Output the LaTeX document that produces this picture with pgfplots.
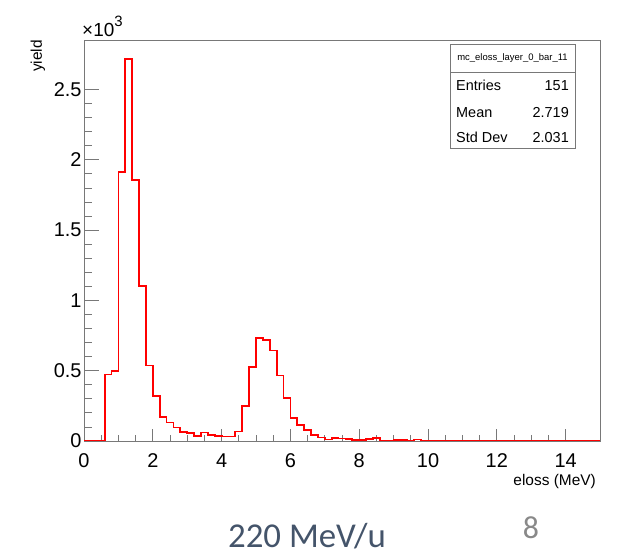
\documentclass[border=0pt]{standalone}
\usepackage{fontspec}
\setmainfont{Liberation Sans}
\newfontfamily\carlito{Carlito}
\usepackage{pgfplots}
\pgfplotsset{compat=1.18}
\definecolor{slidegray}{RGB}{68,84,106}
\definecolor{numgray}{RGB}{137,137,137}
\definecolor{framegray}{RGB}{120,120,120}
\definecolor{histred}{RGB}{255,0,0}
\begin{document}
\begin{tikzpicture}[x=1bp,y=1bp]
\path[use as bounding box] (0,0) rectangle (618,558);
\begin{axis}[
  at={(84bp,117bp)}, anchor=south west,
  scale only axis, width=516bp, height=401bp,
  xmin=0, xmax=15, ymin=0, ymax=2.852,
  axis line style={framegray, line width=0.8pt},
  every tick/.style={draw=framegray, line width=0.8pt},
  tick align=inside, xtick pos=bottom, ytick pos=left,
  xtick={0,2,...,14}, ytick={0,0.5,1,1.5,2,2.5},
  minor x tick num=3, minor y tick num=4,
  major tick length=12bp, minor tick length=6bp,
  ytick style={/pgfplots/major tick length=15bp, /pgfplots/minor tick length=7.5bp},
  /pgf/number format/assume math mode=true,
  scaled y ticks=false,
  yticklabel style={/pgf/number format/fixed, font=\fontsize{20}{20}\selectfont, xshift=1bp},
  xticklabel style={font=\fontsize{20}{20}\selectfont, yshift=-9bp},
]
\addplot[const plot mark left, draw=histred, line width=1.8pt, mark=none, line join=miter] coordinates {
(0.0,0) (0.2,0) (0.4,0) (0.6,0.473) (0.8,0.497) (1.0,1.911) (1.2,2.716) (1.4,1.859)
(1.6,1.101) (1.8,0.537) (2.0,0.322) (2.2,0.173) (2.4,0.131) (2.6,0.096) (2.8,0.062)
(3.0,0.058) (3.2,0.037) (3.4,0.060) (3.6,0.041) (3.8,0.036) (4.0,0.032) (4.2,0.032)
(4.4,0.067) (4.6,0.247) (4.8,0.525) (5.0,0.733) (5.2,0.719) (5.4,0.643) (5.6,0.466)
(5.8,0.306) (6.0,0.164) (6.2,0.112) (6.4,0.079) (6.6,0.041) (6.8,0.025) (7.0,0.010)
(7.2,0.022) (7.4,0.018) (7.6,0.012) (7.8,0.008) (8.0,0.005) (8.2,0.012) (8.4,0.024)
(8.6,0.003) (8.8,0.004) (9.0,0.005) (9.2,0.005) (9.4,0.003) (9.6,0.010) (9.8,0.003)
(10.0,0.002) (10.2,0.003) (10.4,0.002) (10.6,0.003) (10.8,0.002) (11.0,0.002) (11.2,0.003)
(11.4,0.002) (11.6,0.002) (11.8,0.003) (12.0,0.002) (12.2,0.002) (12.4,0.003) (12.6,0.002)
(12.8,0.002) (13.0,0.002) (13.2,0.003) (13.4,0.002) (13.6,0.002) (13.8,0.002) (14.0,0.003)
(14.2,0.002) (14.4,0.002) (14.6,0.002) (14.8,0.002) (15.0,0.002)
};
\end{axis}
% exponent label
\node[anchor=base west, inner sep=0, font=\fontsize{19}{19}\selectfont] at (82,521) {×10\raisebox{0.55em}{\fontsize{15}{15}\selectfont 3}};
% y label
\node[rotate=90, anchor=east, inner sep=0, font=\fontsize{15.5}{15.5}\selectfont] at (38,518) {yield};
% x label
\node[anchor=base east, inner sep=0, font=\fontsize{15.5}{15.5}\selectfont] at (596,72) {eloss (MeV)};
% stats box
\draw[framegray, line width=0.8pt, fill=white] (450,410) rectangle (575,514);
\draw[framegray, line width=0.8pt] (450,486) -- (575,486);
\node[inner sep=0, font=\fontsize{9.5}{9.5}\selectfont] at (512.5,500) {mc\_eloss\_layer\_0\_bar\_11};
\node[anchor=base west, inner sep=0, font=\fontsize{14.5}{14.5}\selectfont] at (456,467) {Entries};
\node[anchor=base east, inner sep=0, font=\fontsize{14.5}{14.5}\selectfont] at (569,467) {151};
\node[anchor=base west, inner sep=0, font=\fontsize{14.5}{14.5}\selectfont] at (456,440) {Mean};
\node[anchor=base east, inner sep=0, font=\fontsize{14.5}{14.5}\selectfont] at (569,440) {2.719};
\node[anchor=base west, inner sep=0, font=\fontsize{14.5}{14.5}\selectfont] at (456,415) {Std Dev};
\node[anchor=base east, inner sep=0, font=\fontsize{14.5}{14.5}\selectfont] at (569,415) {2.031};
% slide text
\node[anchor=base, inner sep=0, text=slidegray, font=\carlito\fontsize{35}{35}\selectfont] at (307,10) {220 MeV/u};
\node[anchor=base, inner sep=0, text=numgray, font=\carlito\fontsize{32}{32}\selectfont] at (531,19) {8};
\end{tikzpicture}
\end{document}
